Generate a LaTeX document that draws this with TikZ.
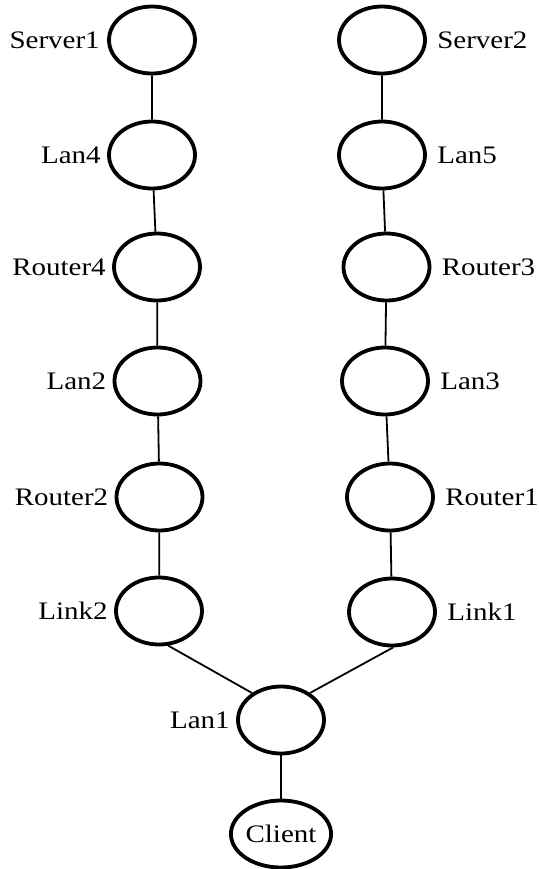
\documentclass[tikz,border=0pt]{standalone}
\usepackage{fontspec}
\setmainfont{Liberation Serif}
\newfontfamily\hostfont[FakeStretch=1.15]{Liberation Serif}
\usetikzlibrary{shapes.geometric}

\begin{document}
\begin{tikzpicture}[x=0.5pt,y=-0.5pt,
    host/.style={draw,ellipse,line width=1.9pt,minimum width=43pt,minimum height=33.5pt,inner sep=0pt},
    tag/.style={font=\hostfont\fontsize{12.6}{14}\selectfont,inner sep=0pt},
    wire/.style={line width=0.9pt}]
  \useasboundingbox (0,0) rectangle (538,869);

  % Left chain
  \node[host,label={[tag,label distance=3.5pt]left:Server1}] (server1) at (152,40) {};
  \node[host,label={[tag,label distance=3pt]left:Lan4}] (lan4) at (152,155) {};
  \node[host,label={[tag,label distance=3pt]left:Router4}] (router4) at (157,267) {};
  \node[host,label={[tag,label distance=3pt]left:Lan2}] (lan2) at (157.5,381) {};
  \node[host,label={[tag,label distance=3pt]left:Router2}] (router2) at (159.5,497) {};
  \node[host,label={[tag,label distance=3pt]left:Link2}] (link2) at (159,611) {};

  % Right chain
  \node[host,label={[tag,label distance=5pt]right:Server2}] (server2) at (382,40) {};
  \node[host,label={[tag,label distance=5pt]right:Lan5}] (lan5) at (382,155) {};
  \node[host,label={[tag,label distance=5pt]right:Router3}] (router3) at (386.5,267) {};
  \node[host,label={[tag,label distance=5pt]right:Lan3}] (lan3) at (385,381) {};
  \node[host,label={[tag,label distance=5pt]right:Router1}] (router1) at (390,497) {};
  \node[host,label={[tag,label distance=5pt]right:Link1}] (link1) at (392,612) {};

  % Bottom: shared lan and the client
  \node[host,label={[tag,label distance=3pt]left:Lan1}] (lan1) at (281,720) {};
  \node[host,font=\hostfont\fontsize{12.6}{14}\selectfont] (client) at (281,834) {Client};

  % Connections
  \draw[wire] (server1) -- (lan4) -- (router4) -- (lan2) -- (router2) -- (link2);
  \draw[wire] (server2) -- (lan5) -- (router3) -- (lan3) -- (router1) -- (link1);
  \draw[wire] (link2.-75) -- (lan1.137);
  \draw[wire] (link1.-88) -- (lan1.43);
  \draw[wire] (lan1) -- (client);
\end{tikzpicture}
\end{document}
